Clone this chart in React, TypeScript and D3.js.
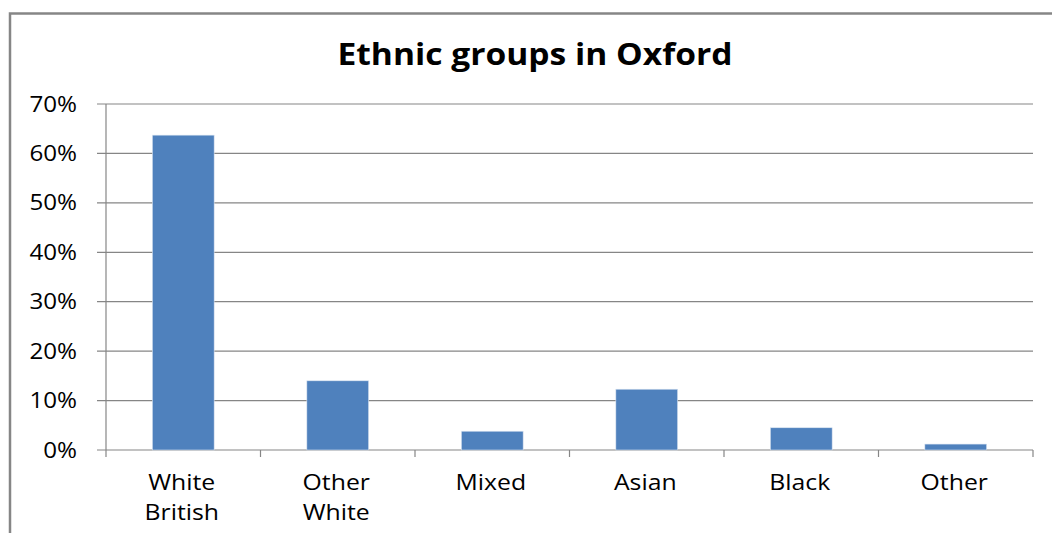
import React, { useEffect, useRef } from 'react';
import * as d3 from 'd3';

const categories = ['White British', 'Other White', 'Mixed', 'Asian', 'Black', 'Other'];
const shares = [0.637, 0.140, 0.038, 0.123, 0.045, 0.012];
const yTicks = [0, 0.1, 0.2, 0.3, 0.4, 0.5, 0.6, 0.7];

const W = 1052;
const H = 533;
const margin = { top: 104, right: 19, bottom: 83, left: 106 };
const FONT = '"Open Sans", Lato, sans-serif';
// the source image text is a little stretched sideways
const SX = 1.18;

const App: React.FC = () => {
  const ref = useRef<SVGSVGElement>(null);

  useEffect(() => {
    if (!ref.current) return;
    const root = d3.select(ref.current);
    root.selectAll('*').remove();

    const width = W - margin.left - margin.right;
    const height = H - margin.top - margin.bottom;

    // chart frame
    root.append('rect')
      .attr('x', 10)
      .attr('y', 13.5)
      .attr('width', W + 20)
      .attr('height', H + 20)
      .attr('fill', 'white')
      .attr('stroke', '#868686')
      .attr('stroke-width', 2.5);

    root.append('text')
      .attr('transform', `translate(535,65) scale(1.12,1)`)
      .attr('text-anchor', 'middle')
      .style('font-family', FONT)
      .style('font-weight', 'bold')
      .style('font-size', '30px')
      .attr('fill', '#000')
      .text('Ethnic groups in Oxford');

    const g = root.append('g')
      .attr('transform', `translate(${margin.left},${margin.top})`);

    const x = d3.scaleBand<string>()
      .domain(categories)
      .range([0, width])
      .paddingInner(0.6)
      .paddingOuter(0.3);

    const y = d3.scaleLinear().domain([0, 0.7]).range([height, 0]);

    // gridlines with left tick marks
    g.selectAll('line.grid')
      .data(yTicks)
      .join('line')
      .attr('class', 'grid')
      .attr('x1', -9)
      .attr('x2', width)
      .attr('y1', d => y(d))
      .attr('y2', d => y(d))
      .attr('stroke', '#868686')
      .attr('stroke-width', 1.2);

    g.selectAll('text.ytick')
      .data(yTicks)
      .join('text')
      .attr('class', 'ytick')
      .attr('transform', d => `translate(-29,${y(d) + 7.5}) scale(1.15,1)`)
      .attr('text-anchor', 'end')
      .style('font-family', FONT)
      .style('font-size', '21px')
      .attr('fill', '#000')
      .text(d => d3.format('.0%')(d));

    // axes lines
    g.append('line')
      .attr('x1', 0).attr('x2', 0)
      .attr('y1', 0).attr('y2', height)
      .attr('stroke', '#868686')
      .attr('stroke-width', 1.2);

    const step = width / categories.length;
    g.selectAll('line.xtick')
      .data(d3.range(categories.length + 1))
      .join('line')
      .attr('class', 'xtick')
      .attr('x1', i => i * step)
      .attr('x2', i => i * step)
      .attr('y1', height)
      .attr('y2', height + 7)
      .attr('stroke', '#868686')
      .attr('stroke-width', 1.2);

    g.selectAll('rect.bar')
      .data(categories)
      .join('rect')
      .attr('class', 'bar')
      .attr('x', d => x(d)!)
      .attr('width', x.bandwidth())
      .attr('y', (d, i) => y(shares[i]))
      .attr('height', (d, i) => height - y(shares[i]))
      .attr('fill', '#4F81BD')
      .attr('stroke', '#dbe5f1')
      .attr('stroke-width', 0.6);

    const labels = g.selectAll('text.xlabel')
      .data(categories)
      .join('text')
      .attr('class', 'xlabel')
      .attr('text-anchor', 'middle')
      .style('font-family', FONT)
      .style('font-size', '21px')
      .attr('fill', '#000')
      .attr('transform', d => `translate(${x(d)! + x.bandwidth() / 2 - 1.5},${height + 40}) scale(${SX},1)`);

    labels.each(function (d) {
      const words = d.split(' ');
      const t = d3.select(this);
      words.forEach((w, i) => {
        t.append('tspan')
          .attr('x', 0)
          .attr('y', i * 30)
          .text(w);
      });
    });
  }, []);

  return (
    <svg
      ref={ref}
      width={W}
      height={H}
      style={{ position: 'absolute', left: 0, top: 0, background: 'white' }}
    />
  );
};

export default App;
